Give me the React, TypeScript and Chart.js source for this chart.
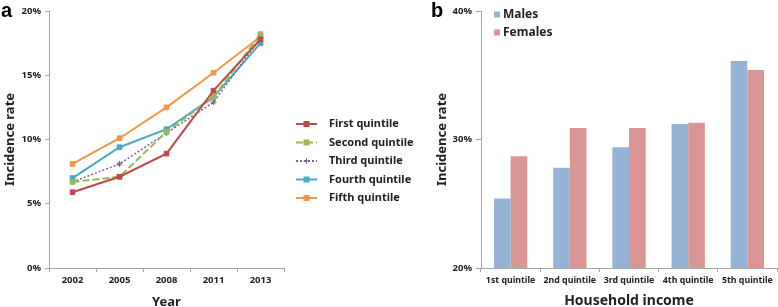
import React, { useEffect, useRef } from "react";
import { Chart, registerables } from "chart.js";

Chart.register(...registerables);

const years = ["2002", "2005", "2008", "2011", "2013"];
const firstQuintile = [5.9, 7.1, 8.9, 13.8, 17.8];
const secondQuintile = [6.7, 7.1, 10.6, 13.3, 18.2];
const thirdQuintile = [6.7, 8.1, 10.5, 12.9, 17.9];
const fourthQuintile = [7.0, 9.4, 10.8, 13.3, 17.5];
const fifthQuintile = [8.1, 10.1, 12.5, 15.2, 18.0];
const lineLabels = ["First quintile", "Second quintile", "Third quintile", "Fourth quintile", "Fifth quintile"];

const incomeCats = ["1st quintile", "2nd quintile", "3rd quintile", "4th quintile", "5th quintile"];
const males = [25.4, 27.8, 29.4, 31.2, 36.1];
const females = [28.7, 30.9, 30.9, 31.3, 35.4];
const barLabels = ["Males", "Females"];

const FONT = "'Noto Sans', 'Open Sans', sans-serif";
const AXIS = "#a6a6a6";
const TEXT = "#222";

const lineLegend = {
  id: "lineLegend",
  afterDraw(chart: any) {
    const ctx = chart.ctx;
    ctx.save();
    chart.data.datasets.forEach((ds: any, i: number) => {
      const y = 124 + i * 18.5;
      const x0 = 296;
      const x1 = 317;
      ctx.strokeStyle = ds.borderColor;
      ctx.lineWidth = 2;
      ctx.setLineDash(ds.borderDash || []);
      ctx.beginPath();
      ctx.moveTo(x0, y);
      ctx.lineTo(x1, y);
      ctx.stroke();
      ctx.setLineDash([]);
      const cx = (x0 + x1) / 2;
      if (ds.pointStyle === "star") {
        ctx.lineWidth = 1;
        ctx.beginPath();
        ctx.moveTo(cx - 3, y);
        ctx.lineTo(cx + 3, y);
        ctx.moveTo(cx, y - 3);
        ctx.lineTo(cx, y + 3);
        ctx.stroke();
      } else {
        ctx.fillStyle = ds.pointBackgroundColor;
        ctx.fillRect(cx - 3, y - 3, 6, 6);
      }
      ctx.fillStyle = TEXT;
      ctx.font = `bold 11px ${FONT}`;
      ctx.textBaseline = "middle";
      ctx.textAlign = "left";
      ctx.fillText(ds.label, 329, y);
    });
    ctx.restore();
  },
};

const barLegend = {
  id: "barLegend",
  afterDraw(chart: any) {
    const ctx = chart.ctx;
    ctx.save();
    chart.data.datasets.forEach((ds: any, i: number) => {
      const y = 14.5 + i * 18;
      ctx.fillStyle = ds.backgroundColor;
      ctx.fillRect(74, y - 3, 6, 6);
      ctx.fillStyle = TEXT;
      ctx.font = `bold 12px ${FONT}`;
      ctx.textBaseline = "middle";
      ctx.textAlign = "left";
      ctx.fillText(ds.label, 83, y);
    });
    ctx.restore();
  },
};

function LineChart() {
  const ref = useRef<HTMLCanvasElement>(null);
  useEffect(() => {
    const colors = ["#BE4B48", "#98B954", "#7D60A0", "#46AAC5", "#F79646"];
    const series = [firstQuintile, secondQuintile, thirdQuintile, fourthQuintile, fifthQuintile];
    const dashes = [[], [7, 3], [2, 2], [], []];
    const chart = new Chart(ref.current!, {
      type: "line",
      data: {
        labels: years,
        datasets: series.map((d, i) => ({
          label: lineLabels[i],
          data: d,
          borderColor: colors[i],
          backgroundColor: colors[i],
          pointBackgroundColor: colors[i],
          pointBorderColor: colors[i],
          borderWidth: i === 2 ? 1.5 : 2,
          borderDash: dashes[i],
          pointStyle: i === 2 ? "star" : "rect",
          pointRadius: i === 2 ? 3 : 3.3,
          pointBorderWidth: 1,
          tension: 0,
        })),
      },
      options: {
        responsive: false,
        animation: false,
        layout: { padding: { top: 11, right: 136, left: 0, bottom: 0 } },
        plugins: { legend: { display: false }, tooltip: { enabled: false } },
        scales: {
          x: {
            offset: true,
            grid: { offset: true, drawOnChartArea: false, drawTicks: true, tickLength: 4, color: AXIS },
            border: { color: AXIS, width: 1 },
            ticks: { color: TEXT, font: { family: FONT, size: 9.5, weight: "bold" }, padding: 3 },
            title: {
              display: true,
              text: "Year",
              color: TEXT,
              font: { family: FONT, size: 13, weight: "bold", lineHeight: 1 },
              padding: { top: 0, bottom: -1.5 },
            },
            afterFit(scale: any) {
              scale.height = 39;
            },
          },
          y: {
            min: 0,
            max: 20,
            grid: { drawOnChartArea: false, drawTicks: true, tickLength: 4, color: AXIS },
            border: { color: AXIS, width: 1 },
            ticks: {
              stepSize: 5,
              color: TEXT,
              font: { family: FONT, size: 9.5, weight: "bold" },
              padding: 4,
              callback: (v: any) => v + "%",
            },
            title: {
              display: true,
              text: "Incidence rate",
              color: TEXT,
              font: { family: FONT, size: 13, weight: "bold", lineHeight: 1 },
              padding: { top: 4, bottom: 0 },
            },
            afterFit(scale: any) {
              scale.width = 49;
            },
          },
        },
      } as any,
      plugins: [lineLegend],
    });
    return () => chart.destroy();
  }, []);
  return <canvas ref={ref} width={420} height={307} />;
}

function BarChart() {
  const ref = useRef<HTMLCanvasElement>(null);
  useEffect(() => {
    const chart = new Chart(ref.current!, {
      type: "bar",
      data: {
        labels: incomeCats,
        datasets: [
          { label: barLabels[0], data: males, backgroundColor: "#95B3D7", borderWidth: 0 },
          { label: barLabels[1], data: females, backgroundColor: "#D99694", borderWidth: 0 },
        ],
      },
      options: {
        responsive: false,
        animation: false,
        layout: { padding: { top: 11, right: 1, left: 0, bottom: 0 } },
        plugins: { legend: { display: false }, tooltip: { enabled: false } },
        datasets: { bar: { categoryPercentage: 0.563, barPercentage: 1 } },
        scales: {
          x: {
            grid: { offset: true, drawOnChartArea: false, drawTicks: true, tickLength: 4, color: AXIS },
            border: { color: AXIS, width: 1 },
            ticks: {
              color: TEXT,
              font: { family: FONT, size: 8.8, weight: "bold" },
              padding: 3,
              maxRotation: 0,
              minRotation: 0,
              autoSkip: false,
            },
            title: {
              display: true,
              text: "Household income",
              color: TEXT,
              font: { family: FONT, size: 14, weight: "bold", lineHeight: 1 },
              padding: { top: 0, bottom: -1.5 },
            },
            afterFit(scale: any) {
              scale.height = 39;
            },
          },
          y: {
            min: 20,
            max: 40,
            grid: { drawOnChartArea: false, drawTicks: true, tickLength: 5, color: AXIS },
            border: { color: AXIS, width: 1 },
            ticks: {
              stepSize: 10,
              color: TEXT,
              font: { family: FONT, size: 9.5, weight: "bold" },
              padding: 4,
              callback: (v: any) => v + "%",
            },
            title: {
              display: true,
              text: "Incidence rate",
              color: TEXT,
              font: { family: FONT, size: 13, weight: "bold", lineHeight: 1 },
              padding: { top: 16, bottom: 0 },
            },
            afterFit(scale: any) {
              scale.width = 61;
            },
          },
        },
      } as any,
      plugins: [barLegend],
    });
    return () => chart.destroy();
  }, []);
  return <canvas ref={ref} width={358} height={307} />;
}

export default function App() {
  const labelStyle: React.CSSProperties = {
    position: "absolute",
    top: -2,
    font: "bold 20px 'Liberation Sans', Arial, sans-serif",
    color: "#000",
    lineHeight: "24px",
  };
  return (
    <div style={{ position: "fixed", left: 0, top: 0, width: 778, height: 307, background: "#fff", overflow: "hidden" }}>
      <div style={{ position: "absolute", left: 0, top: 0, width: 420, height: 307 }}>
        <LineChart />
      </div>
      <div style={{ position: "absolute", left: 420, top: 0, width: 358, height: 307 }}>
        <BarChart />
      </div>
      <div style={{ ...labelStyle, left: 1 }}>a</div>
      <div style={{ ...labelStyle, left: 431 }}>b</div>
    </div>
  );
}
